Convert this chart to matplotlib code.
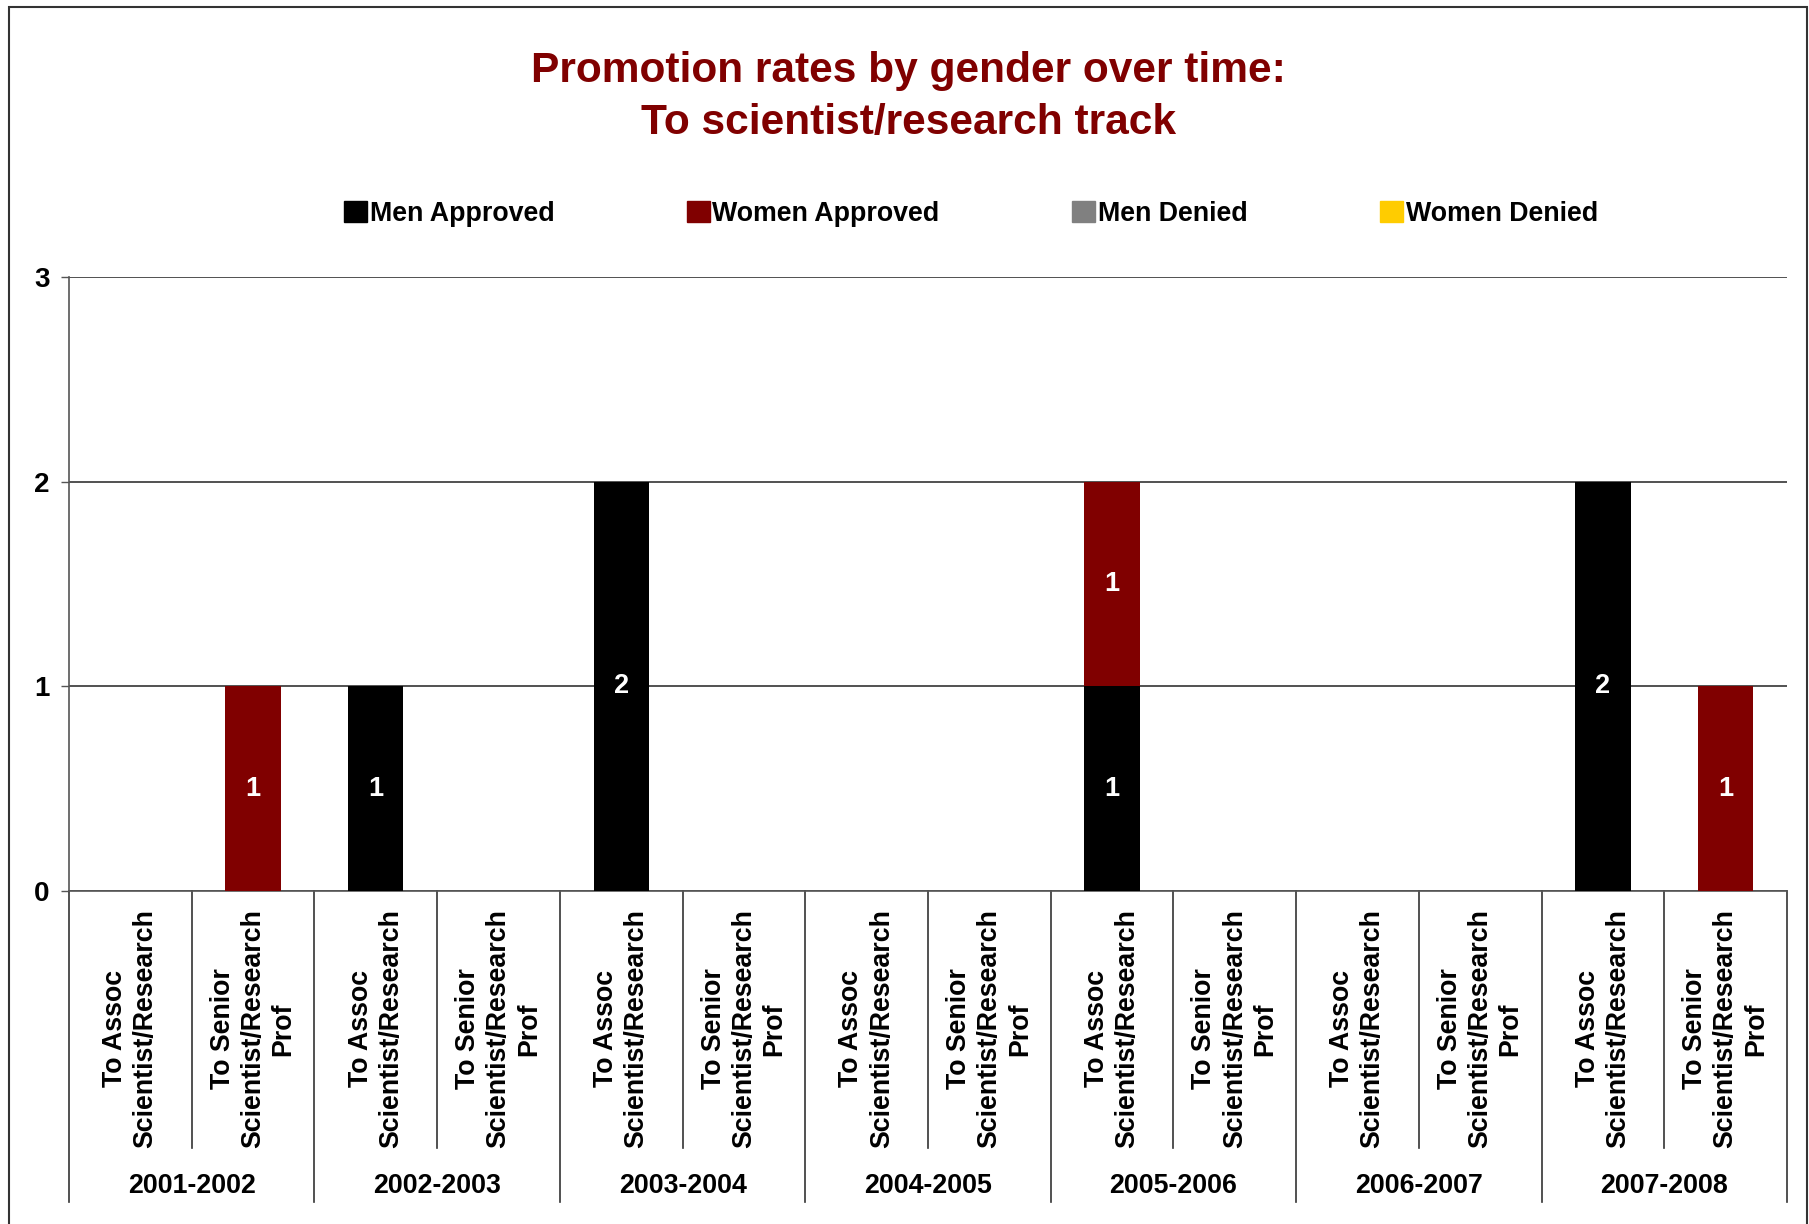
import numpy as np
import matplotlib
matplotlib.use("Agg")
import matplotlib.pyplot as plt
from matplotlib.patches import Patch, Rectangle
from matplotlib.transforms import blended_transform_factory

plt.rcParams['font.family'] = ['Liberation Sans', 'DejaVu Sans']
plt.rcParams['font.weight'] = 'bold'

# data
years = ['2001-2002', '2002-2003', '2003-2004', '2004-2005',
         '2005-2006', '2006-2007', '2007-2008']
tracks = ['To Assoc\nScientist/Research', 'To Senior\nScientist/Research\nProf']
men_approved = [0, 0, 1, 0, 2, 0, 0, 0, 1, 0, 0, 0, 2, 0]
women_approved = [0, 1, 0, 0, 0, 0, 0, 0, 1, 0, 0, 0, 0, 1]
men_denied = [0] * 14
women_denied = [0] * 14

series = [('Men Approved', men_approved, '#000000'),
          ('Women Approved', women_approved, '#800000'),
          ('Men Denied', men_denied, '#808080'),
          ('Women Denied', women_denied, '#FFCC00')]

W, H = 1809, 1224
fig = plt.figure(figsize=(W / 100, H / 100), dpi=100)
ax = fig.add_axes([69 / W, 1 - 891 / H, (1787 - 69) / W, (891 - 277) / H])

x = np.arange(len(men_approved))
bottom = np.zeros(len(x))
handles = []
for name, vals, col in series:
    vals = np.array(vals, dtype=float)
    ax.bar(x, vals, 0.45, bottom=bottom, color=col, zorder=3)
    for xi, v, b in zip(x, vals, bottom):
        if v > 0:
            ax.text(xi, b + v / 2, f'{int(v)}', color='white', ha='center',
                    va='center', fontsize=19.5, fontweight='bold', zorder=4)
    bottom += vals
    handles.append(Patch(facecolor=col, edgecolor=col, label=name))

ax.set_xlim(-0.5, len(x) - 0.5)
ax.set_ylim(0, 3)
ax.set_yticks([0, 1, 2, 3])
ax.set_yticklabels(['0', '1', '2', '3'], fontsize=20, fontweight='bold')
ax.yaxis.grid(True, color='#333333', lw=1.2, zorder=0)
ax.set_xticks([])
ax.tick_params(axis='y', length=6, width=1, color='#555555', pad=8)
for s in ['top', 'right']:
    ax.spines[s].set_visible(False)
ax.spines['left'].set_color('#555555')
ax.spines['bottom'].set_color('#555555')
ax.spines['left'].set_linewidth(1.2)
ax.spines['bottom'].set_linewidth(1.2)

# category axis: two-level labels and separators
trans = blended_transform_factory(ax.transData, ax.transAxes)
for i in range(len(x)):
    ax.text(x[i], -0.03, tracks[i % 2], rotation=90, ha='center', va='top',
            multialignment='center', fontsize=19.3, fontweight='bold',
            linespacing=1.22, transform=trans)
for k in range(len(x) + 1):
    edge = k - 0.5
    low = -0.507 if k % 2 == 0 else -0.419
    ax.plot([edge, edge], [0, low], color='#333333', lw=1.2,
            transform=trans, clip_on=False)
for j, yr in enumerate(years):
    ax.text(2 * j + 0.5, -0.481, yr, ha='center', va='center', fontsize=19.3,
            fontweight='bold', transform=trans)

# title and legend
fig.text(0.502, 1 - 71 / H, 'Promotion rates by gender over time:', ha='center',
         va='center', fontsize=30.6, fontweight='bold', color='#800000')
fig.text(0.502, 1 - 123 / H, 'To scientist/research track', ha='center',
         va='center', fontsize=30.6, fontweight='bold', color='#800000')
fig.legend(handles=handles, loc='center', bbox_to_anchor=(971 / W, 1 - 214 / H),
           ncol=4, frameon=False, fontsize=19.3, handlelength=0.85,
           handleheight=0.85, handletextpad=0.1, columnspacing=4.95)

# outer chart border
fig.patches.append(Rectangle((9 / W, -0.01), (1807 - 9) / W, 1.01 - 7 / H,
                             transform=fig.transFigure, fill=False,
                             edgecolor='#333333', lw=1.5))

fig.savefig('out.png', dpi=100)
